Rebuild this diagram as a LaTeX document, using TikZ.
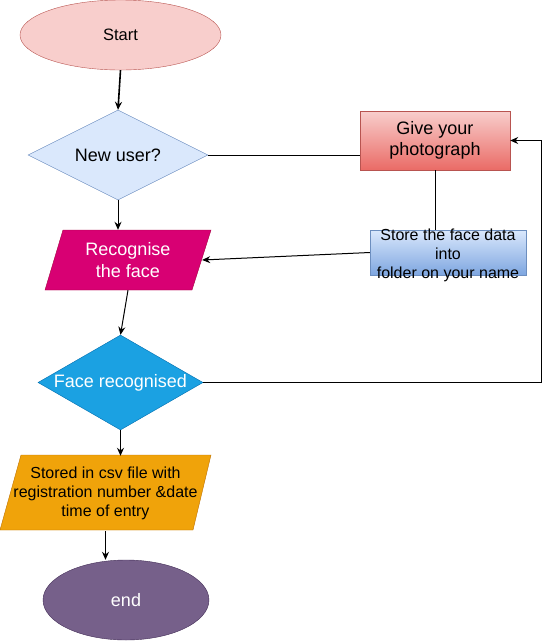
\documentclass[tikz,border=0pt]{standalone}
\usepackage{fontspec}
\setmainfont{Liberation Sans}
\usetikzlibrary{arrows.meta,shapes.geometric}
\usepackage{xcolor}
\definecolor{startfill}{HTML}{F8CECC}
\definecolor{startline}{HTML}{B85450}
\definecolor{userfill}{HTML}{DAE8FC}
\definecolor{userline}{HTML}{6C8EBF}
\definecolor{photobot}{HTML}{EA6B66}
\definecolor{storebot}{HTML}{7EA6E0}
\definecolor{recogfill}{HTML}{D80073}
\definecolor{recogline}{HTML}{A50040}
\definecolor{facefill}{HTML}{1BA1E2}
\definecolor{faceline}{HTML}{006EAF}
\definecolor{csvfill}{HTML}{F0A30A}
\definecolor{csvline}{HTML}{BD7000}
\definecolor{endfill}{HTML}{76608A}
\definecolor{endline}{HTML}{432D57}

\begin{document}
\begin{tikzpicture}[
    x=1pt, y=-1pt,
    big/.style={font=\fontsize{18}{21.6}\selectfont},
    small/.style={font=\fontsize{16}{19.2}\selectfont},
    term/.style={ellipse, draw, inner sep=0pt, align=center},
    dec/.style={diamond, draw, inner sep=0pt, aspect=1.8, align=center},
    io/.style={rectangle, inner sep=0pt, align=center},
    proc/.style={rectangle, draw, inner sep=0pt, align=center},
    arr/.style={-{Stealth[length=8pt,width=7pt]}, line width=1pt},
    ln/.style={line width=1pt}
]
\useasboundingbox (0,0) rectangle (542,641);

% slanted input/output shapes
\filldraw[fill=recogfill, draw=recogline] (63,230) -- (211,230) -- (192,290) -- (45,290) -- cycle;
\filldraw[fill=csvfill, draw=csvline] (21,455) -- (211,455) -- (193,530) -- (0,530) -- cycle;

\node[term, fill=startfill, draw=startline, minimum width=201pt, minimum height=70pt,
      font=\fontsize{16.5}{20}\selectfont] (start) at (120.5,35) {Start};
\node[dec, big, fill=userfill, draw=userline, minimum width=180pt, minimum height=90pt] (nu) at (118,155) {New user?};
\node[proc, big, top color=startfill, bottom color=photobot, draw=startline,
      minimum width=150pt, minimum height=59pt] (give) at (435,140.5) {Give your\\photograph};
\node[proc, top color=userfill, bottom color=storebot, draw=userline,
      minimum width=156pt, minimum height=45pt,
      label={[small, align=center, yshift=-3pt]center:Store the face data\\into\\folder on your name}] (store) at (448,252.5) {};
\node[io, big, text=white, minimum width=148pt, minimum height=60pt] (recog) at (128,260) {Recognise\\ the face};
\node[dec, big, text=white, fill=facefill, draw=faceline, minimum width=165pt, minimum height=95pt] (face) at (120.5,382.5) {Face recognised};
\node[io, small, minimum width=190pt, minimum height=75pt] (csv) at (105.5,493.5) {Stored in csv file with\\registration number \&date\\time of entry};
\node[term, big, text=white, fill=endfill, draw=endline, minimum width=166pt, minimum height=80pt] (end) at (126,600) {end};

\coordinate (back) at (541,382.5);

\draw[arr, line width=1.6pt] (start.south) -- (nu.north);
\draw[ln] (nu.east) -- (nu.east -| give.west);
\draw[ln] (give.south) -- (give.south |- store.north);
\draw[arr] (store.west) -- (recog.east);
\draw[arr] (nu.south) -- (nu.south |- recog.north);
\draw[arr] (recog.south) -- (face.north);
\draw[arr] (face.east) -- (back) |- (give.east);
\draw[arr] (face.south) -- (face.south |- csv.north);
\draw[arr] (csv.south) -- (csv.south |- end.north);
\end{tikzpicture}
\end{document}
